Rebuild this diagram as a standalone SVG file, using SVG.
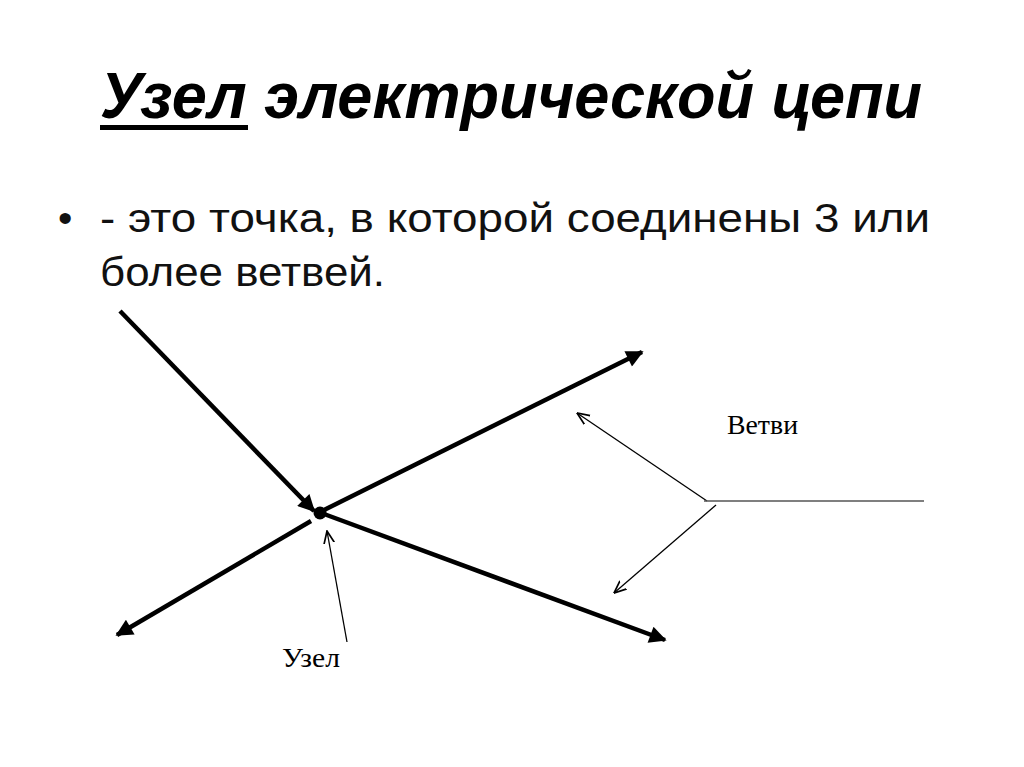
<svg xmlns="http://www.w3.org/2000/svg" width="1024" height="767" viewBox="0 0 1024 767">
<style>
.title{font-family:"Liberation Sans",Arial,sans-serif;font-weight:bold;font-style:italic;font-size:64px;fill:#000}
.body{font-family:"Liberation Sans",Arial,sans-serif;font-size:41px;fill:#111}
.lbl{font-family:"Liberation Serif","Times New Roman",serif;font-size:28px;fill:#000}
.thick{stroke:#000;stroke-width:4.5;fill:none}
.thin{stroke:#000;stroke-width:1.3;fill:none}
</style>
<defs>
<marker id="fa" viewBox="0 0 10 10" refX="9" refY="5" markerWidth="4.5" markerHeight="3.8" orient="auto" markerUnits="strokeWidth">
<path d="M0,0 L10,5 L0,10 Z" fill="#000"/>
</marker>
<marker id="oa" viewBox="0 0 10 10" refX="9.5" refY="5" markerWidth="10" markerHeight="10" orient="auto" markerUnits="strokeWidth">
<path d="M0,1 L9.5,5 L0,9" fill="none" stroke="#000" stroke-width="1.3"/>
</marker>
</defs>
<rect width="1024" height="767" fill="#fff"/>
<g id="title">
<text class="title" x="100" y="118" textLength="822" lengthAdjust="spacingAndGlyphs">Узел электрической цепи</text>
<rect x="100" y="125" width="148" height="5" fill="#000"/>
</g>
<g id="bullet">
<text class="body" x="58" y="232">•</text>
<text class="body" x="100" y="232" textLength="830" lengthAdjust="spacingAndGlyphs">- это точка, в которой соединены 3 или</text>
<text class="body" x="100" y="286" textLength="285" lengthAdjust="spacingAndGlyphs">более ветвей.</text>
</g>
<g id="connectors">
<line class="thick" x1="120" y1="311" x2="314" y2="511" marker-end="url(#fa)"/>
<line class="thick" x1="322" y1="511" x2="642" y2="352" marker-end="url(#fa)"/>
<line class="thick" x1="324" y1="514" x2="665" y2="640" marker-end="url(#fa)"/>
<line class="thick" x1="311" y1="521" x2="117" y2="635" marker-end="url(#fa)"/>
<line class="thin" x1="347" y1="642" x2="327" y2="531" marker-end="url(#oa)"/>
<line class="thin" x1="707" y1="501" x2="577" y2="413" marker-end="url(#oa)"/>
<line x1="704" y1="501" x2="924" y2="501" stroke="#555" stroke-width="1.3"/>
<line class="thin" x1="716" y1="505" x2="614" y2="593" marker-end="url(#oa)"/>
</g>
<g id="node">
<circle cx="320" cy="513" r="6.5" fill="#000"/>
</g>
<g id="label-vetvi">
<text class="lbl" x="727" y="434" textLength="71" lengthAdjust="spacingAndGlyphs">Ветви</text>
</g>
<g id="label-uzel">
<text class="lbl" x="282" y="667" textLength="58" lengthAdjust="spacingAndGlyphs">Узел</text>
</g>
</svg>
